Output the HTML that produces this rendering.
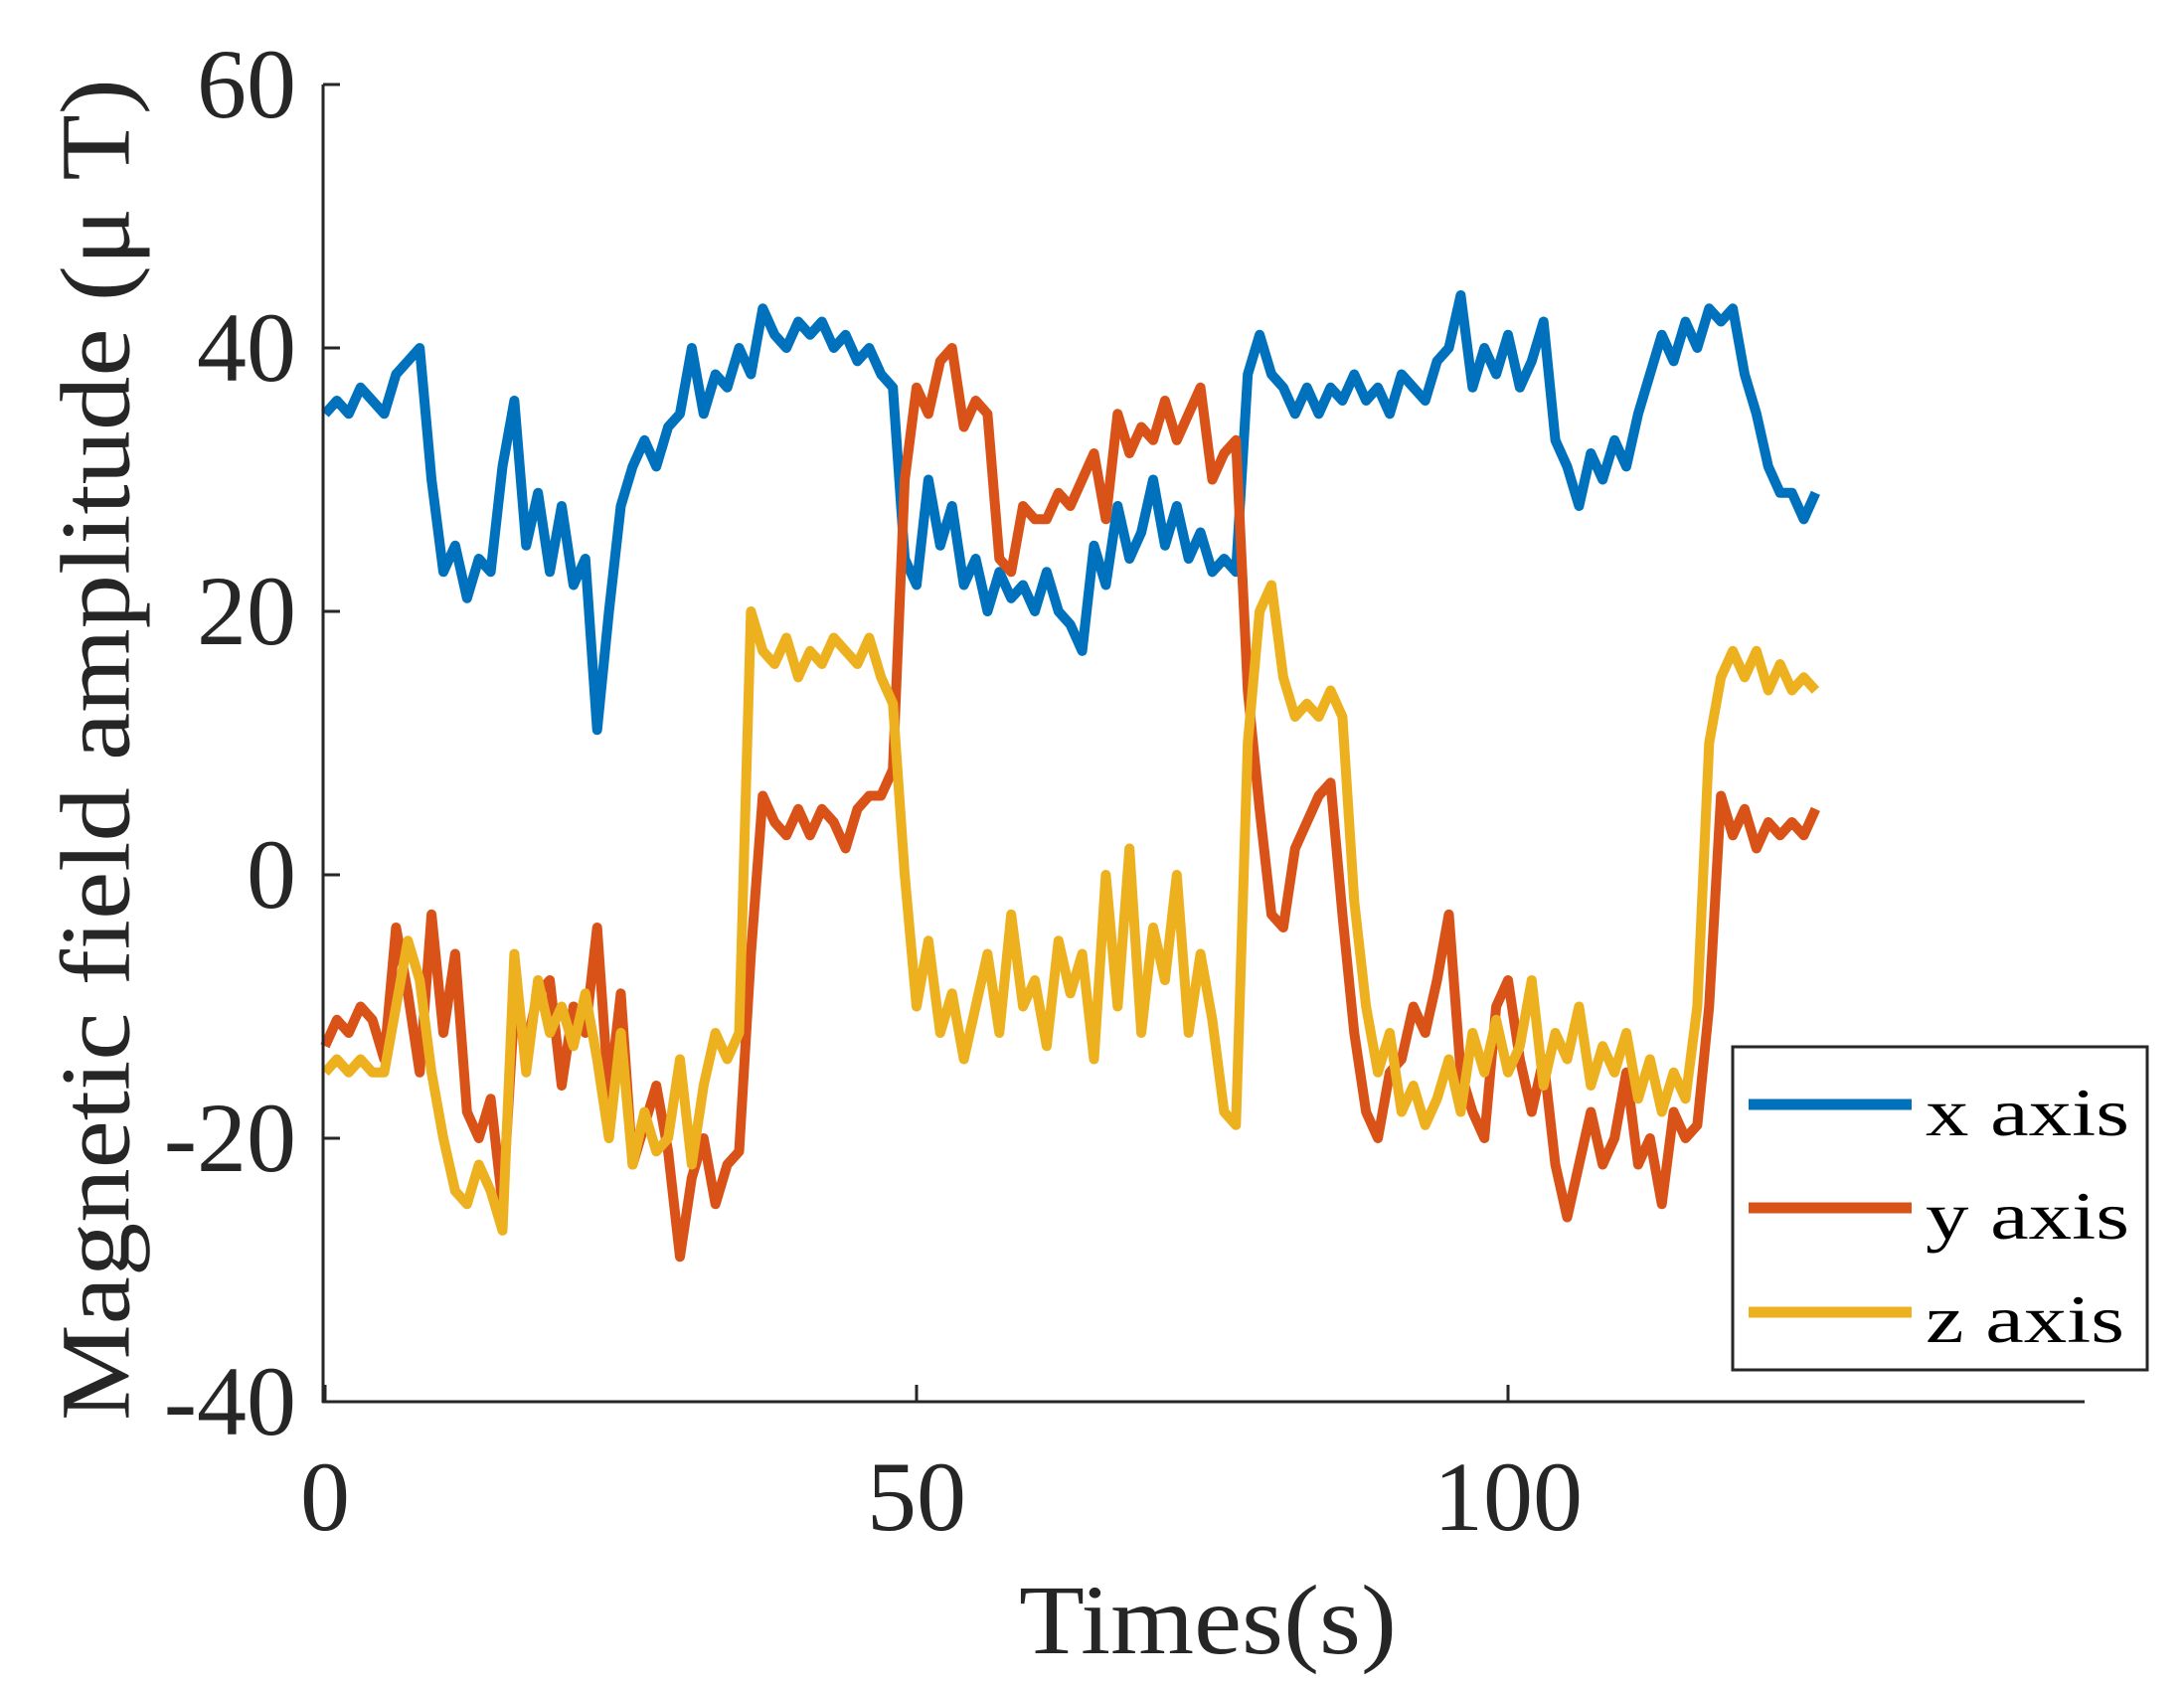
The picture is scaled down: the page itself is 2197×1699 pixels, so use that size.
<!DOCTYPE html>
<html><head><meta charset="utf-8"><style>
html,body{margin:0;padding:0;background:#fff;}
svg{display:block;font-family:"Liberation Serif",serif;}
</style></head><body>
<svg id="chart" width="2197" height="1699" viewBox="0 0 2197 1699" xmlns="http://www.w3.org/2000/svg">
<rect x="0" y="0" width="2197" height="1699" fill="#fff"/>
<g id="series"></g>
<g id="axes"></g>
<text x="96" y="754" transform="rotate(-90 96 754)" text-anchor="middle" dominant-baseline="central" font-size="100" fill="#262626" textLength="1350" lengthAdjust="spacingAndGlyphs">Magnetic field amplitude (μ T)</text>
<text x="1215" y="1663" text-anchor="middle" font-size="100" fill="#262626" textLength="380" lengthAdjust="spacingAndGlyphs">Times(s)</text>
<g>
<rect x="1743" y="1053" width="417" height="325" fill="#fff" stroke="#262626" stroke-width="3"/>
<line x1="1759" y1="1111" x2="1923" y2="1111" stroke="#0072BD" stroke-width="11"/>
<text x="1937" y="1142" font-size="68" fill="#000" textLength="205" lengthAdjust="spacingAndGlyphs">x axis</text>
<line x1="1759" y1="1215" x2="1923" y2="1215" stroke="#D95319" stroke-width="11"/>
<text x="1937" y="1246" font-size="68" fill="#000" textLength="205" lengthAdjust="spacingAndGlyphs">y axis</text>
<line x1="1759" y1="1320" x2="1923" y2="1320" stroke="#EDB120" stroke-width="11"/>
<text x="1937" y="1350" font-size="68" fill="#000" textLength="200" lengthAdjust="spacingAndGlyphs">z axis</text>
</g>
</svg>
<script>
const xTicks = [0, 50, 100];
const xTickLabels = ["0", "50", "100"];
const yTicks = [-40, -20, 0, 20, 40, 60];
const yTickLabels = ["-40", "-20", "0", "20", "40", "60"];
const seriesX = [35,36,35,37,36,35,38,39,40,30,23,25,21,24,23,31,36,25,29,23,28,22,24,11,20,28,31,33,31,34,35,40,35,38,37,40,38,43,41,40,42,41,42,40,41,39,40,38,37,24,22,30,25,28,22,24,20,23,21,22,20,23,20,19,17,25,22,28,24,26,30,25,28,24,26,23,24,23,38,41,38,37,35,37,35,37,36,38,36,37,35,38,37,36,39,40,44,37,40,38,41,37,39,42,33,31,28,32,30,33,31,35,38,41,39,42,40,43,42,43,38,35,31,29,29,27,29];
const seriesY = [-13,-11,-12,-10,-11,-14,-4,-9,-15,-3,-12,-6,-18,-20,-17,-25,-10,-13,-9,-8,-16,-10,-12,-4,-17,-9,-22,-19,-16,-21,-29,-23,-20,-25,-22,-21,-6,6,4,3,5,3,5,4,2,5,6,6,8,30,37,35,39,40,34,36,35,24,23,28,27,27,29,28,30,32,27,35,32,34,33,36,33,35,37,30,32,33,14,5,-3,-4,2,4,6,7,-3,-12,-18,-20,-15,-14,-10,-12,-8,-3,-15,-18,-20,-10,-8,-14,-18,-14,-22,-26,-22,-18,-22,-20,-15,-22,-20,-25,-18,-20,-19,-10,6,3,5,2,4,3,4,3,5];
const seriesZ = [-15,-14,-15,-14,-15,-15,-10,-5,-8,-15,-20,-24,-25,-22,-24,-27,-6,-15,-8,-12,-10,-13,-9,-14,-20,-12,-22,-18,-21,-20,-14,-22,-16,-12,-14,-12,20,17,16,18,15,17,16,18,17,16,18,15,13,0,-10,-5,-12,-9,-14,-10,-6,-12,-3,-10,-8,-13,-5,-9,-6,-14,0,-10,2,-12,-4,-8,0,-12,-6,-11,-18,-19,10,20,22,15,12,13,12,14,12,-2,-10,-15,-12,-18,-16,-19,-17,-14,-18,-12,-15,-11,-15,-13,-8,-16,-12,-14,-10,-16,-13,-15,-12,-17,-14,-18,-15,-17,-10,10,15,17,15,17,14,16,14,15,14];
const sampleStep = 1;

const NS = "http://www.w3.org/2000/svg";
function xs(t){ return 327 + t * 11.9; }
function ys(v){ return 1410 - (v + 40) * 13.25; }

const seriesG = document.getElementById('series');
function drawSeries(arr, color, name){
  const pts = arr.map((v,i)=> xs(i*sampleStep).toFixed(1)+','+ys(v).toFixed(1)).join(' ');
  const pl = document.createElementNS(NS,'polyline');
  pl.setAttribute('points', pts);
  pl.setAttribute('fill','none');
  pl.setAttribute('stroke', color);
  pl.setAttribute('stroke-width','10');
  pl.setAttribute('stroke-linejoin','round');
  
  
  seriesG.appendChild(pl);
}
drawSeries(seriesX, '#0072BD', 'line-x-axis');
drawSeries(seriesY, '#D95319', 'line-y-axis');
drawSeries(seriesZ, '#EDB120', 'line-z-axis');

const axesG = document.getElementById('axes');
function mk(tag, attrs){
  const e = document.createElementNS(NS, tag);
  for (const k in attrs) e.setAttribute(k, attrs[k]);
  axesG.appendChild(e);
  return e;
}
let a = mk('line',{x1:325,y1:ys(60),x2:325,y2:1411,stroke:'#262626','stroke-width':3});


a = mk('line',{x1:324,y1:1410,x2:2097,y2:1410,stroke:'#262626','stroke-width':3});


xTicks.forEach((t,i)=>{
  const tk = mk('line',{x1:xs(t),y1:1410,x2:xs(t),y2:1393,stroke:'#262626','stroke-width':3});
  
  
  const lb = mk('text',{x:xs(t),y:1539,'text-anchor':'middle','font-size':100,fill:'#262626'});
  lb.textContent = xTickLabels[i];
  
  
});
yTicks.forEach((v,i)=>{
  const tk = mk('line',{x1:325,y1:ys(v),x2:342,y2:ys(v),stroke:'#262626','stroke-width':3});
  
  
  const lb = mk('text',{x:298,y:ys(v)+33,'text-anchor':'end','font-size':100,fill:'#262626'});
  lb.textContent = yTickLabels[i];
  
  
});
</script>
</body></html>
